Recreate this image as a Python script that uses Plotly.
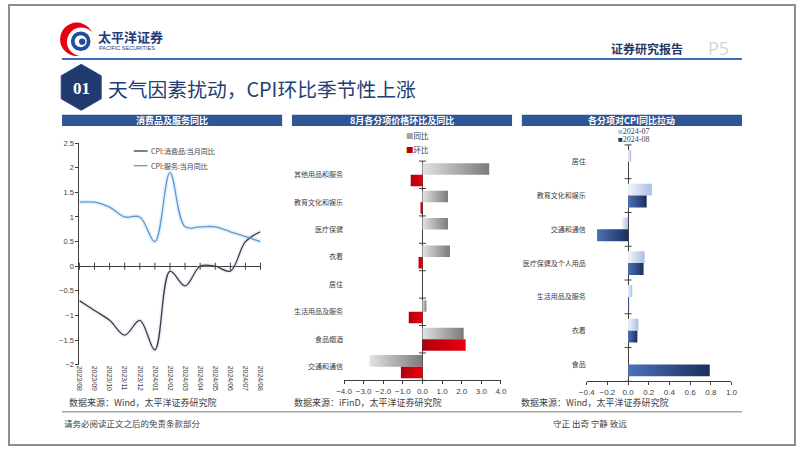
import math
import plotly.graph_objects as go

W, H = 802, 451
def px(x): return x / W
def py(y): return 1 - y / H

# ---------------- data ----------------
months = ["2023/08", "2023/09", "2023/10", "2023/11", "2023/12", "2024/01", "2024/02",
          "2024/03", "2024/04", "2024/05", "2024/06", "2024/07", "2024/08"]
cpi_goods = [-0.7, -0.9, -1.1, -1.4, -1.1, -1.7, -0.1, -0.4, 0.0, 0.0, -0.1, 0.5, 0.7]
cpi_services = [1.3, 1.3, 1.2, 1.0, 1.0, 0.5, 1.9, 0.8, 0.8, 0.8, 0.7, 0.6, 0.5]

cats2 = ["其他用品和服务", "教育文化和娱乐", "医疗保健", "衣着", "居住",
         "生活用品及服务", "食品烟酒", "交通和通信"]
yoy2 = [3.4, 1.3, 1.3, 1.4, 0.0, 0.2, 2.1, -2.7]
mom2 = [-0.6, -0.1, 0.0, -0.2, 0.0, -0.7, 2.2, -1.1]

cats3 = ["居住", "教育文化和娱乐", "交通和通信", "医疗保健及个人用品",
         "生活用品及服务", "衣着", "食品"]
jul3 = [0.03, 0.23, -0.06, 0.16, 0.04, 0.10, 0.0]
aug3 = [0.0, 0.18, -0.30, 0.15, 0.01, 0.09, 0.79]

x2_ticks = [-4, -3, -2, -1, 0, 1, 2, 3, 4]
x3_ticks = [-0.4, -0.2, 0.0, 0.2, 0.4, 0.6, 0.8, 1.0]

# ---------------- styles ----------------
CJK = "Noto Sans CJK SC"
NUM = "Liberation Sans"
AX = "#404040"
NAVY = "#1F3864"
HEAD = "#2E5597"

fig = go.Figure()

# ---------------- panel 1: lines ----------------
for vals, glow in [(cpi_services, "rgba(185,205,235,0.30)"),
                   (cpi_goods, "rgba(190,195,215,0.25)")]:
    fig.add_trace(go.Scatter(x=months, y=vals, mode="lines",
                             line=dict(color=glow, width=4.5, shape="spline", smoothing=1.0),
                             hoverinfo="skip", showlegend=False, xaxis="x", yaxis="y"))
for vals, col, name in [(cpi_goods, "#3A3A4A", "CPI:消费品:当月同比"),
                        (cpi_services, "#5B9BD5", "CPI:服务:当月同比")]:
    fig.add_trace(go.Scatter(x=months, y=vals, mode="lines", name=name,
                             line=dict(color=col, width=1.3, shape="spline", smoothing=1.0),
                             showlegend=False, xaxis="x", yaxis="y"))
fig.add_trace(go.Scatter(x=months, y=[0] * len(months), mode="markers",
                         marker=dict(symbol="line-ns", size=5, line=dict(width=1, color=AX)),
                         hoverinfo="skip", showlegend=False, cliponaxis=False,
                         xaxis="x", yaxis="y"))

# ---------------- gradient bars ----------------
def hbar(value, center, side, h, c0, c1, xa, ya):
    if value == 0:
        return
    y0, y1 = (center - h, center) if side == "top" else (center, center + h)
    fig.add_trace(go.Scatter(
        x=[0, value, value, 0, 0], y=[y0, y0, y1, y1, y0],
        fill="toself", mode="lines", line=dict(width=0),
        fillgradient=dict(type="horizontal", colorscale=[[0, c0], [1, c1]]),
        hoverinfo="skip", showlegend=False, xaxis=xa, yaxis=ya))

for i, (a, b) in enumerate(zip(yoy2, mom2)):
    hbar(a, i, "top", 0.42, "#E2E2E2", "#7A7A7A", "x2", "y2")
    hbar(b, i, "bot", 0.42, "#B0000E", "#E8000C", "x2", "y2")
for i, (a, b) in enumerate(zip(jul3, aug3)):
    hbar(a, i, "top", 0.35, "#F3F6FC", "#A9BEE4", "x3", "y3")
    hbar(b, i, "bot", 0.35, "#4B72B8", "#1B2F5C", "x3", "y3")

fig.add_trace(go.Scatter(x=[0] * (len(cats2) + 1), y=[i - 0.5 for i in range(len(cats2) + 1)],
                         mode="markers", cliponaxis=False, hoverinfo="skip", showlegend=False,
                         marker=dict(symbol="line-ew", size=5, line=dict(width=1, color=AX)),
                         xaxis="x2", yaxis="y2"))
fig.add_trace(go.Scatter(x=[0] * (len(cats3) + 1), y=[i - 0.5 for i in range(len(cats3) + 1)],
                         mode="markers", cliponaxis=False, hoverinfo="skip", showlegend=False,
                         marker=dict(symbol="line-ew", size=5, line=dict(width=1, color=AX)),
                         xaxis="x3", yaxis="y3"))

tickfont = dict(family=NUM, size=7.5, color=AX)
catfont = dict(family=CJK, size=7, color=AX)

fig.update_layout(
    width=W, height=H, autosize=False,
    margin=dict(l=0, r=0, t=0, b=0),
    paper_bgcolor="white", plot_bgcolor="white",
    showlegend=False,
    xaxis=dict(domain=[px(72.7), px(257)], type="category", range=[0, 12],
               tickangle=90, tickfont=dict(family=NUM, size=7, color=AX),
               showline=False, ticks="", showgrid=False, zeroline=False, anchor="y"),
    yaxis=dict(domain=[py(368), py(142)], range=[-2, 2.5], dtick=0.5,
               showline=True, linecolor=AX, linewidth=1, ticks="outside", ticklen=3,
               tickcolor=AX, tickfont=tickfont, showgrid=False,
               zeroline=True, zerolinecolor=AX, zerolinewidth=1, anchor="x"),
    xaxis2=dict(domain=[px(342), px(501.7)], range=[-4, 4], tickvals=x2_ticks,
                tickformat=".1f", showline=True, linecolor=AX, linewidth=1,
                ticks="outside", ticklen=3, tickcolor=AX, tickfont=dict(family=NUM, size=8, color=AX),
                showgrid=False, zeroline=True, zerolinecolor=AX, zerolinewidth=1, anchor="y2"),
    yaxis2=dict(domain=[py(384), py(160.3)], range=[len(cats2) - 0.5, -0.5],
                tickvals=list(range(len(cats2))), ticktext=cats2, tickfont=catfont,
                ticks="", showline=False, showgrid=False, zeroline=False, anchor="x2"),
    xaxis3=dict(domain=[px(589), px(736.3)], range=[-0.4, 1.0], tickvals=x3_ticks,
                tickformat=".1f", showline=True, linecolor=AX, linewidth=1,
                ticks="outside", ticklen=3, tickcolor=AX, tickfont=dict(family=NUM, size=8, color=AX),
                showgrid=False, zeroline=True, zerolinecolor=AX, zerolinewidth=1, anchor="y3"),
    yaxis3=dict(domain=[py(385), py(143.8)], range=[len(cats3) - 0.5, -0.5],
                tickvals=list(range(len(cats3))), ticktext=cats3, tickfont=catfont,
                ticks="", showline=False, showgrid=False, zeroline=False, anchor="x3"),
)

# ---------------- decoration ----------------
shapes = []
ann = []

def rect(x0, y0, x1, y1, fill=None):
    shapes.append(dict(type="rect", xref="paper", yref="paper",
                       x0=px(x0), x1=px(x1), y0=py(y1), y1=py(y0),
                       fillcolor=fill, line=dict(color="rgba(0,0,0,0)", width=0), layer="below"))

def hline(x0, x1, y, color, w):
    shapes.append(dict(type="line", xref="paper", yref="paper",
                       x0=px(x0), x1=px(x1), y0=py(y), y1=py(y), line=dict(color=color, width=w)))

def circ(cx, cy, r, fill):
    shapes.append(dict(type="circle", xref="paper", yref="paper",
                       x0=px(cx - r), x1=px(cx + r), y0=py(cy + r), y1=py(cy - r),
                       fillcolor=fill, line=dict(color="rgba(0,0,0,0)", width=0)))

def text(x, y, s, size, color, xa="left", ya="middle", family=CJK):
    ann.append(dict(x=px(x), y=py(y), xref="paper", yref="paper", text=s, showarrow=False,
                    xanchor=xa, yanchor=ya, font=dict(family=family, size=size, color=color)))

# outer frame
shapes.append(dict(type="rect", xref="paper", yref="paper", x0=px(1), x1=px(801), y0=py(450), y1=py(1),
                   line=dict(color="#8C8C8C", width=2), fillcolor="rgba(0,0,0,0)"))

# logo
circ(70, 36, 17, "#E60012")
circ(74.5, 38.5, 14.5, "white")
circ(74, 38, 10, "#1F4E9A")
circ(74, 38, 6.2, "white")
circ(75.5, 38.5, 3.2, "#1F4E9A")
text(90, 33, "<b>太平洋证券</b>", 13, "#1F3B7A")
text(91, 45, "PACIFIC SECURITIES", 5.5, "#1F3B7A", family=NUM)

# header line and right text
hline(55, 747, 56, "#3B6DB5", 2)
text(650, 45, "<b>证券研究报告</b>", 12, NAVY, xa="center")
text(710, 45, "P5", 18, "#D6D6D6", family="Open Sans")

# hexagon badge
cx, cy, r = 74.5, 85, 23.5
pts = []
for k in range(6):
    a = math.radians(90 + 60 * k)
    pts.append((px(cx + r * math.cos(a)), py(cy - r * math.sin(a))))
path = "M " + " L ".join(f"{x:.5f},{y:.5f}" for x, y in pts) + " Z"
shapes.append(dict(type="path", xref="paper", yref="paper", path=path,
                   fillcolor="#203A6E", line=dict(color="#2A4A85", width=1)))
text(cx, cy + 1.5, "<b>01</b>", 17, "white", xa="center", family="Liberation Serif")
text(100, 86, "天气因素扰动，CPI环比季节性上涨", 19.8, "#233E74")

# panel header bars
for (x0, x1, title) in [(55, 279, "消费品及服务同比"),
                        (289, 513, "8月各分项价格环比及同比"),
                        (523, 747, "各分项对CPI同比拉动")]:
    rect(x0, 113, x1, 124.5, fill=HEAD)
    text((x0 + x1) / 2, 119, f"<b>{title}</b>", 9, "white", xa="center")

# legends
hline(128, 142, 150, "#3A3A4A", 1.3)
hline(128, 142, 165, "#5B9BD5", 1.3)
text(144, 150, "CPI:消费品:当月同比", 7, AX)
text(144, 165, "CPI:服务:当月同比", 7, AX)

text(403, 134, "<span style='color:#A6A6A6'>■</span>同比", 7.5, AX)
text(403, 148, "<span style='color:#C00000'>■</span>环比", 7.5, AX)

text(619, 130, "<span style='color:#B4C7E7'>■</span>2024-07", 8, AX, family="Liberation Serif")
text(619, 138.5, "<span style='color:#1F3864'>■</span>2024-08", 8, AX, family="Liberation Serif")

# sources
text(60, 407, "数据来源：Wind，太平洋证券研究院", 9, AX)
text(289, 407, "数据来源：iFinD，太平洋证券研究院", 9, AX)
text(520, 407, "数据来源：Wind，太平洋证券研究院", 9, AX)
hline(55, 747, 416, "#A6A6A6", 1.5)

# footer
text(55, 428, "请务必阅读正文之后的免责条款部分", 8.5, AX)
text(553, 428, "守正 出奇 宁静 致远", 8.5, AX)

fig.update_layout(shapes=shapes, annotations=ann)
fig.write_html("out.html", config={"displayModeBar": False},
               post_script="document.body.style.margin='0';document.body.style.overflow='hidden';")
